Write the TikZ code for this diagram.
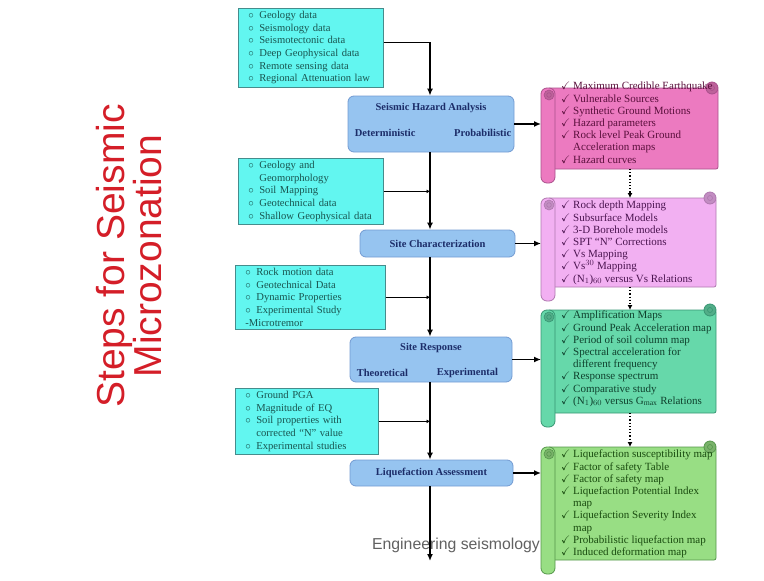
\documentclass[tikz,border=0pt]{standalone}
\usepackage{fontspec}
\usepackage{amsmath,amssymb}
\setmainfont{Liberation Serif}
\newfontfamily\arialfont{Liberation Sans}
\usetikzlibrary{arrows.meta,positioning,calc}
\definecolor{cyanfill}{RGB}{98,246,240}
\definecolor{cyanline}{RGB}{70,140,140}
\definecolor{cyantext}{RGB}{25,85,80}
\definecolor{bluefill}{RGB}{150,196,240}
\definecolor{blueline}{RGB}{115,155,210}
\definecolor{bluetext}{RGB}{28,45,105}
\definecolor{hzfill}{RGB}{236,122,192}
\definecolor{hzline}{RGB}{170,80,140}
\definecolor{hztext}{RGB}{90,15,60}
\definecolor{scfill}{RGB}{242,176,242}
\definecolor{scline}{RGB}{175,120,175}
\definecolor{sctext}{RGB}{75,20,80}
\definecolor{srfill}{RGB}{102,216,170}
\definecolor{srline}{RGB}{55,150,115}
\definecolor{srtext}{RGB}{15,65,45}
\definecolor{lafill}{RGB}{152,222,132}
\definecolor{laline}{RGB}{85,150,75}
\definecolor{latext}{RGB}{25,75,15}
\definecolor{titlered}{RGB}{212,30,40}
\newcommand{\bul}{\makebox[11pt][l]{$\circ$}}
\newcommand{\bind}{\hspace*{11pt}}
\newcommand{\chk}{\makebox[12pt][l]{$\checkmark$}}
\newcommand{\cind}{\hspace*{12pt}}
% scroll: #1 colour prefix, #2 name, #3 left, #4 top, #5 right, #6 bottom of body
\newcommand{\drawscroll}[6]{%
\filldraw[fill=#1fill, draw=#1line, line width=.8pt, rounded corners=2pt] ({#3+7},#4) rectangle (#5,#6);
\filldraw[fill=#1fill!80!black, draw=#1line, line width=.8pt] ({#5-6},#4) circle (6pt);
\draw[#1line, line width=.6pt] ({#5-6},#4) circle (2.5pt);
\filldraw[fill=#1fill, draw=#1line, line width=.8pt, rounded corners=6pt] (#3,#4) rectangle ({#3+14},{#6+14});
\filldraw[fill=#1fill!80!black, draw=#1line, line width=.6pt] ({#3+8},{#4+7}) circle (5pt);
\draw[#1line, line width=.6pt] ({#3+8},{#4+7}) circle (2.3pt);
\coordinate (#2-w) at (#3,#4);
\coordinate (#2-n) at (630,#4);
\coordinate (#2-s) at (630,#6);
}
\begin{document}
\begin{tikzpicture}[x=1pt, y=-1pt,
 inbox/.style={draw=cyanline, fill=cyanfill, line width=.7pt, text=cyantext, font=\fontsize{10.6}{12.6}\selectfont, align=left, anchor=north west, inner xsep=10pt, inner ysep=3pt},
 proc/.style={draw=blueline, fill=bluefill, line width=.8pt, rounded corners=6pt, text=bluetext, font=\bfseries\fontsize{10.5}{12}\selectfont, inner sep=2pt},
 plbl/.style={text=bluetext, font=\bfseries\fontsize{10.5}{12}\selectfont, inner sep=0pt},
 lst/.style={font=\fontsize{11}{12.2}\selectfont, align=left, anchor=north west, inner sep=0pt},
 flow/.style={line width=1.6pt, -{Latex[length=7pt,width=6pt]}},
 feed/.style={line width=1.3pt, -{Latex[length=3.5pt,width=4pt]}},
 dotflow/.style={dotted, line width=1.2pt, -{Latex[length=5pt,width=5pt]}}]
\useasboundingbox (0,0) rectangle (764,581);
\coordinate (spine) at (430,0);
%title
\node[rotate=90, text=titlered, font=\arialfont\fontsize{39}{36}\selectfont, align=center] (title) at (129,256) {Steps for Seismic\\Microzonation};
%input data boxes
\node[inbox, text width=125pt] (in1) at (238,8) {\bul Geology data\\ \bul Seismology data\\ \bul Seismotectonic data\\ \bul Deep Geophysical data\\ \bul Remote sensing data\\ \bul Regional Attenuation law};
\node[inbox, text width=125pt] (in2) at (238,158) {\bul Geology and\\ \bind Geomorphology\\ \bul Soil Mapping\\ \bul Geotechnical data\\ \bul Shallow Geophysical data};
\node[inbox, text width=130pt] (in3) at (235,265) {\bul Rock motion data\\ \bul Geotechnical Data\\ \bul Dynamic Properties\\ \bul Experimental Study\\ -Microtremor};
\node[inbox, text width=123pt] (in4) at (235,388) {\bul Ground PGA\\ \bul Magnitude of EQ\\ \bul Soil properties with\\ \bind corrected ``N'' value\\ \bul Experimental studies};
%process boxes
\node[proc, minimum width=166pt, minimum height=56pt] (sha) at (431,124) {};
\node[plbl] (sha-t) at ([yshift=-12pt]sha.north) {Seismic Hazard Analysis};
\node[plbl, anchor=west] (sha-d) at ([xshift=7pt,yshift=-9pt]sha.west) {Deterministic};
\node[plbl, anchor=east] (sha-p) at ([xshift=-3pt,yshift=-9pt]sha.east) {Probabilistic};
\node[proc, minimum width=155pt, minimum height=27pt] (site) at (437.5,243.5) {Site Characterization};
\node[proc, minimum width=162pt, minimum height=45pt] (resp) at (431,359.5) {};
\node[plbl] (resp-t) at ([yshift=-11pt]resp.north) {Site Response};
\node[plbl, anchor=west] (resp-th) at ([xshift=7pt,yshift=-13.5pt]resp.west) {Theoretical};
\node[plbl, anchor=west] (resp-ex) at ([xshift=87pt,yshift=-13.5pt]resp.west) {Experimental};
\node[proc, minimum width=163pt, minimum height=26pt] (liq) at (431.5,473) {Liquefaction Assessment};
%output scrolls
\drawscroll{hz}{out1}{541}{88}{718}{169}
\drawscroll{sc}{out2}{541}{198}{716}{287}
\drawscroll{sr}{out3}{541}{310}{716}{413}
\drawscroll{la}{out4}{541}{447}{716}{560}
\node[lst, text=hztext] (out1-txt) at (561,82) {\chk Maximum Credible Earthquake\\ \chk Vulnerable Sources\\ \chk Synthetic Ground Motions\\ \chk Hazard parameters\\ \chk Rock level Peak Ground\\ \cind Acceleration maps\\ \chk Hazard curves};
\node[lst, text=sctext] (out2-txt) at (561,201) {\chk Rock depth Mapping\\ \chk Subsurface Models\\ \chk 3-D Borehole models\\ \chk SPT ``N'' Corrections\\ \chk Vs Mapping\\ \chk Vs$^{30}$ Mapping\\ \chk (N$_1$)$_{60}$ versus Vs Relations};
\node[lst, text=srtext] (out3-txt) at (561,311) {\chk Amplification Maps\\ \chk Ground Peak Acceleration map\\ \chk Period of soil column map\\ \chk Spectral acceleration for\\ \cind different frequency\\ \chk Response spectrum\\ \chk Comparative study\\ \chk (N$_1$)$_{60}$ versus G$_{\max}$ Relations};
\node[lst, text=latext] (out4-txt) at (561,450) {\chk Liquefaction susceptibility map\\ \chk Factor of safety Table\\ \chk Factor of safety map\\ \chk Liquefaction Potential Index\\ \cind map\\ \chk Liquefaction Severity Index\\ \cind map\\ \chk Probabilistic liquefaction map\\ \chk Induced deformation map};
%end label
\node[font=\arialfont\fontsize{15.8}{18}\selectfont, text=black!62] (eng) at (456,545) {Engineering seismology};
\coordinate (end) at (430,561);
%main flow down the spine
\draw[flow] ([yshift=5pt]in1.east) -| (sha.north -| spine);
\foreach \a/\b in {sha/site,site/resp,resp/liq}{\draw[flow] (\a.south -| spine) -- (\b.north -| spine);}
\draw[flow] (liq.south -| spine) -- (end);
%data into the spine
\foreach \i in {2,3,4}{\draw[feed] (in\i.east) -- (in\i.east -| spine);}
%results to the scrolls
\foreach \a/\b in {sha/out1,site/out2,resp/out3,liq/out4}{\draw[flow] (\a.east) -- (\a.east -| \b-w);}
\foreach \a/\b in {out1/out2,out2/out3,out3/out4}{\draw[dotflow] (\a-s) -- (\b-n);}
\end{tikzpicture}
\end{document}
